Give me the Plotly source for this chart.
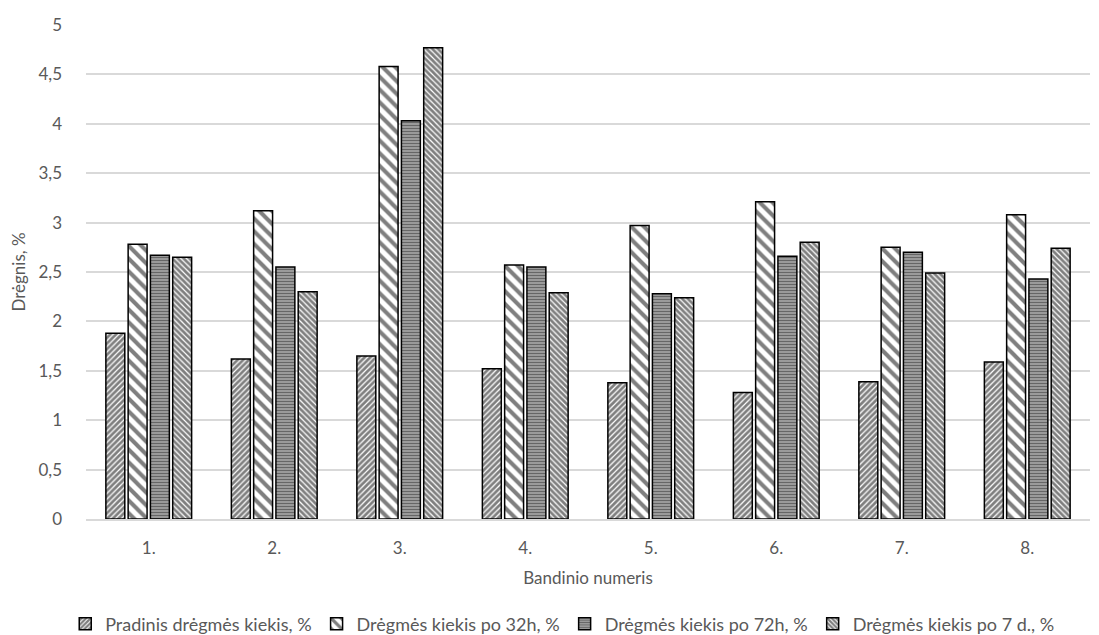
import plotly.graph_objects as go

categories = ["1.", "2.", "3.", "4.", "5.", "6.", "7.", "8."]
series_names = [
    "Pradinis drėgmės kiekis, %",
    "Drėgmės kiekis po 32h, %",
    "Drėgmės kiekis po 72h, %",
    "Drėgmės kiekis po 7 d., %",
]
pradinis = [1.88, 1.62, 1.65, 1.52, 1.38, 1.28, 1.39, 1.59]
po_32h = [2.78, 3.12, 4.58, 2.57, 2.97, 3.21, 2.75, 3.08]
po_72h = [2.67, 2.55, 4.03, 2.55, 2.28, 2.66, 2.70, 2.43]
po_7d = [2.65, 2.30, 4.77, 2.29, 2.24, 2.80, 2.49, 2.74]
y_ticks = [0, 0.5, 1, 1.5, 2, 2.5, 3, 3.5, 4, 4.5, 5]

values = [pradinis, po_32h, po_72h, po_7d]
patterns = [
    dict(shape="/", size=4, solidity=0.7, fgcolor="black", bgcolor="white"),
    dict(shape="\\", size=9, solidity=0.45, fgcolor="black", bgcolor="white"),
    dict(shape="-", size=3, solidity=0.6, fgcolor="#111111", bgcolor="#bbbbbb"),
    dict(shape="\\", size=4, solidity=0.7, fgcolor="black", bgcolor="white"),
]

fig = go.Figure()
for name, vals, pat in zip(series_names, values, patterns):
    fig.add_trace(go.Bar(
        x=categories, y=vals, name=name,
        marker=dict(color="white", pattern=pat, line=dict(color="black", width=1.5)),
    ))

font_family = "Lato, Open Sans, sans-serif"
fig.update_layout(
    width=1091, height=627,
    margin=dict(l=78, r=9, t=17, b=116, autoexpand=False),
    paper_bgcolor="white", plot_bgcolor="white",
    barmode="group", bargap=0.29, bargroupgap=0.15,
    separators=", ",
    font=dict(family=font_family, size=17, color="#595959"),
    showlegend=True,
    legend=dict(orientation="h", x=0.508, xanchor="center", xref="container",
                y=0.0175, yanchor="middle", yref="container",
                font=dict(size=18, color="#595959"), tracegroupgap=0,
                traceorder="normal"),
    xaxis=dict(
        showline=True, linecolor="#d9d9d9", linewidth=1.5, automargin=False,
        ticks="", ticklabelstandoff=13,
        title=dict(text="Bandinio numeris", standoff=15, font=dict(size=17, color="#595959")),
    ),
    yaxis=dict(
        range=[0, 5], tickvals=y_ticks, showgrid=True, gridcolor="#d9d9d9", gridwidth=1.5,
        zeroline=False, ticks="", ticklabelstandoff=23, automargin=False,
        title=dict(text="Drėgnis, %", standoff=10, font=dict(size=17, color="#595959")),
    ),
)

fig.write_html("out.html")
